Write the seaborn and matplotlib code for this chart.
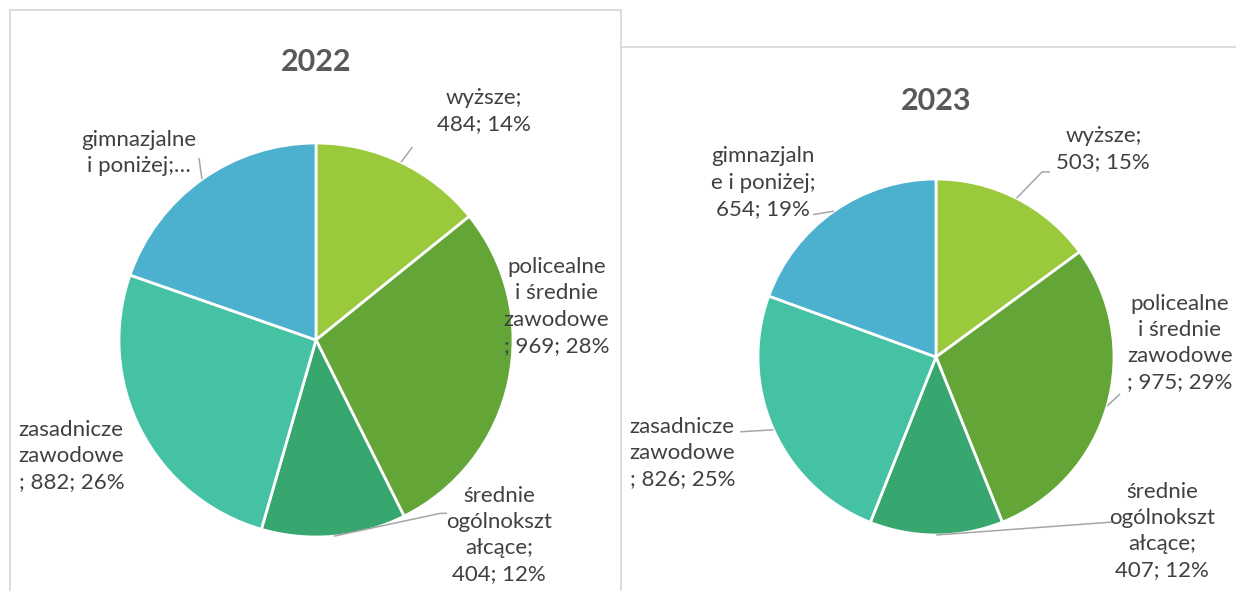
import numpy as np
import pandas as pd
import seaborn as sns
import matplotlib
matplotlib.use("Agg")
import matplotlib.pyplot as plt
from matplotlib.lines import Line2D

# ---------------- data ----------------
categories = ["wyższe", "policealne i średnie zawodowe", "średnie ogólnokształcące",
              "zasadnicze zawodowe", "gimnazjalne i poniżej"]
values_2022 = [484, 969, 404, 882, 670]
values_2023 = [503, 975, 407, 826, 654]
titles = ["2022", "2023"]

# label texts as wrapped in the reference ({v}=value, {p}=percent)
labels_2022 = ["wyższe;\n{v}; {p}%",
               "policealne\ni średnie\nzawodowe\n; {v}; {p}%",
               "średnie\nogólnokszt\nałcące;\n{v}; {p}%",
               "zasadnicze\nzawodowe\n; {v}; {p}%",
               "gimnazjalne\ni poniżej;…"]
labels_2023 = ["wyższe;\n{v}; {p}%",
               "policealne\ni średnie\nzawodowe\n; {v}; {p}%",
               "średnie\nogólnokszt\nałcące;\n{v}; {p}%",
               "zasadnicze\nzawodowe\n; {v}; {p}%",
               "gimnazjaln\ne i poniżej;\n{v}; {p}%"]

colors = ["#9BC93C", "#63A537", "#37A76F", "#45C1A4", "#4BB1CF"]

# ---------------- styling ----------------
sns.set_theme(style="white")
plt.rcParams["font.family"] = ["Lato", "DejaVu Sans"]
palette = sns.color_palette(colors)

W, H = 1236, 591
fig = plt.figure(figsize=(W / 100, H / 100), dpi=100)
fig.patch.set_facecolor("white")

text_color = "#404040"
line_color = "#A6A6A6"

# frames (chart borders)
frame_color = "#D9D9D9"
def fx(px): return px / W
def fy(py): return 1 - py / H
fig.add_artist(Line2D([fx(10), fx(10)], [fy(10), 0], color=frame_color, lw=1.3, transform=fig.transFigure))
fig.add_artist(Line2D([fx(10), fx(621)], [fy(10), fy(10)], color=frame_color, lw=1.3, transform=fig.transFigure))
fig.add_artist(Line2D([fx(621), fx(621)], [fy(10), 0], color=frame_color, lw=1.3, transform=fig.transFigure))
fig.add_artist(Line2D([fx(621), 1], [fy(47), fy(47)], color=frame_color, lw=1.3, transform=fig.transFigure))

# layout per chart: center px, radius px, title y px,
# label positions (units of radius, alignment), leader endpoints (units of radius)
layouts = [
    dict(cx=316, cy=340, r=197, title_y=62,
         label_pos=[(0.85, 1.16, "center"), (1.22, 0.17, "center"), (0.93, -0.99, "center"),
                    (-1.51, -0.59, "left"), (-0.90, 0.95, "center")],
         leaders=[[(0.49, 0.98)], None, [(0.63, -0.88), (0.665, -0.88)], None, [(-0.594, 0.924)]]),
    dict(cx=936, cy=357, r=178, title_y=101,
         label_pos=[(0.94, 1.17, "center"), (1.37, 0.08, "center"), (1.27, -0.98, "center"),
                    (-1.72, -0.54, "left"), (-0.97, 0.98, "center")],
         leaders=[[(0.596, 1.04), (0.64, 1.04)], [(1.034, -0.208)], [(0.994, -0.927)],
                  [(-1.10, -0.42)], [(-0.69, 0.80)]]),
]

for vals, labels, title, lay in zip([values_2022, values_2023], [labels_2022, labels_2023], titles, layouts):
    df = pd.DataFrame({"kat": categories, "v": vals})
    df["p"] = (df["v"] / df["v"].sum() * 100).round().astype(int)
    cx, cy, r = lay["cx"], lay["cy"], lay["r"]
    ax = fig.add_axes([fx(cx - r), fy(cy + r), 2 * r / W, 2 * r / H])
    wedges, _ = ax.pie(df["v"], colors=palette, startangle=90, counterclock=False,
                       radius=1.0, wedgeprops=dict(edgecolor="white", linewidth=2.0))
    ax.set_xlim(-1, 1)
    ax.set_ylim(-1, 1)
    ax.set_aspect("auto")
    ax.set_axis_off()

    for i, w in enumerate(wedges):
        lx, ly, ha = lay["label_pos"][i]
        txt = labels[i].format(v=df["v"][i], p=df["p"][i])
        ax.text(lx, ly, txt, ha=ha, va="center", fontsize=16, color=text_color,
                linespacing=1.38, multialignment=ha, clip_on=False)
        pts = lay["leaders"][i]
        if pts:
            ang = np.deg2rad((w.theta1 + w.theta2) / 2)
            xs = [np.cos(ang)] + [p[0] for p in pts]
            ys = [np.sin(ang)] + [p[1] for p in pts]
            ax.plot(xs, ys, color=line_color, lw=1.1, clip_on=False, solid_capstyle="butt")

    fig.text(fx(cx), fy(lay["title_y"]), title, ha="center", va="center",
             fontsize=22, fontweight="bold", color="#595959")

fig.savefig("out.png", dpi=100, facecolor="white")
